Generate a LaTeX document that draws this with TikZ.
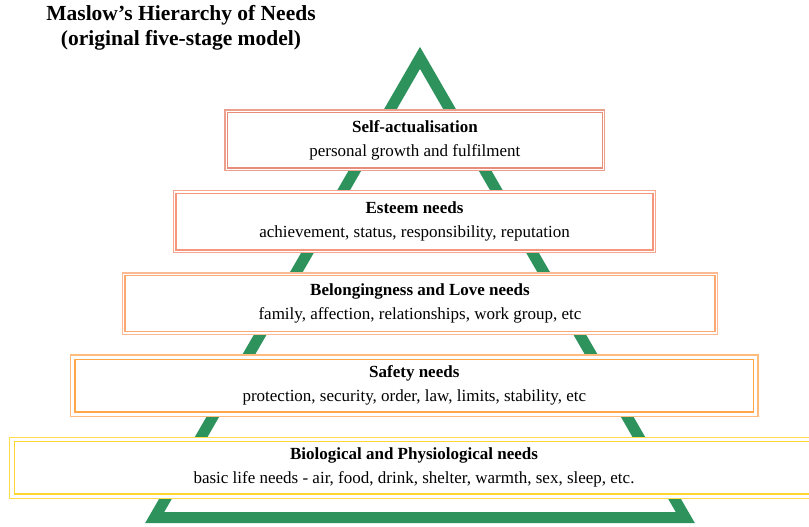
\documentclass[tikz,border=0pt]{standalone}
\usepackage{fontspec}
\setmainfont{Liberation Serif}
\begin{document}
\begin{tikzpicture}[x=1pt,y=-1pt,
  pyramid/.style={draw=pyrgreen, line width=11pt, line join=miter},
  % #1 inner frame colour, #2 outer frame colour, #3 spacing between the frames
  level/.style n args={3}{
    preaction={draw=#2, line width={2*#3pt+1.25pt}},
    preaction={draw=white, line width={2*#3pt-1.25pt}},
    draw=#1, line width=1.4pt, fill=white, inner sep=0pt, align=center,
    font=\fontsize{17}{24}\selectfont},
  heading/.style={font=\fontsize{21.5}{25}\selectfont\bfseries, align=center}]
\definecolor{pyrgreen}{RGB}{46,146,92}
\definecolor{lvlA}{RGB}{230,142,122}
\definecolor{lvlAo}{RGB}{236,160,140}
\definecolor{lvlB}{RGB}{246,150,124}
\definecolor{lvlBo}{RGB}{248,166,144}
\definecolor{lvlC}{RGB}{250,168,116}
\definecolor{lvlCo}{RGB}{252,186,148}
\definecolor{lvlD}{RGB}{255,166,72}
\definecolor{lvlDo}{RGB}{255,188,124}
\definecolor{lvlE}{RGB}{255,214,50}
\definecolor{lvlEo}{RGB}{255,220,76}
\useasboundingbox (0,0) rectangle (809,527);
\fill[white] (0,0) rectangle (809,527);

% title
\node[heading] (title) at (181,27.5) {Maslow’s Hierarchy of Needs\\(original five-stage model)};

% pyramid outline
\coordinate (apex) at (420,57.9);
\coordinate (bl) at (154.7,517.5);
\coordinate (br) at (685.3,517.5);
\draw[pyramid] (apex) -- (br) -- (bl) -- cycle;

% levels, bottom of the pyramid last
\node[level={lvlA}{lvlAo}{2.5}, minimum width=374.8pt, minimum height=55.5pt] (self) at (414.9,140.2)
  {\textbf{Self-actualisation}\\personal growth and fulfilment};
\node[level={lvlB}{lvlBo}{2.8}, minimum width=477pt, minimum height=56.5pt] (esteem) at (414.5,221.7)
  {\textbf{Esteem needs}\\achievement, status, responsibility, reputation};
\node[level={lvlC}{lvlCo}{2.7}, minimum width=590pt, minimum height=56pt] (love) at (420,303.7)
  {\textbf{Belongingness and Love needs}\\family, affection, relationships, work group, etc};
\node[level={lvlD}{lvlDo}{4.4}, minimum width=678.7pt, minimum height=52.7pt] (safety) at (414.3,385.7)
  {\textbf{Safety needs}\\protection, security, order, law, limits, stability, etc};
\node[level={lvlE}{lvlEo}{4.5}, minimum width=799.4pt, minimum height=52.3pt] (bio) at (414,467.9)
  {\textbf{Biological and Physiological needs}\\basic life needs - air, food, drink, shelter, warmth, sex, sleep, etc.};
\end{tikzpicture}
\end{document}
